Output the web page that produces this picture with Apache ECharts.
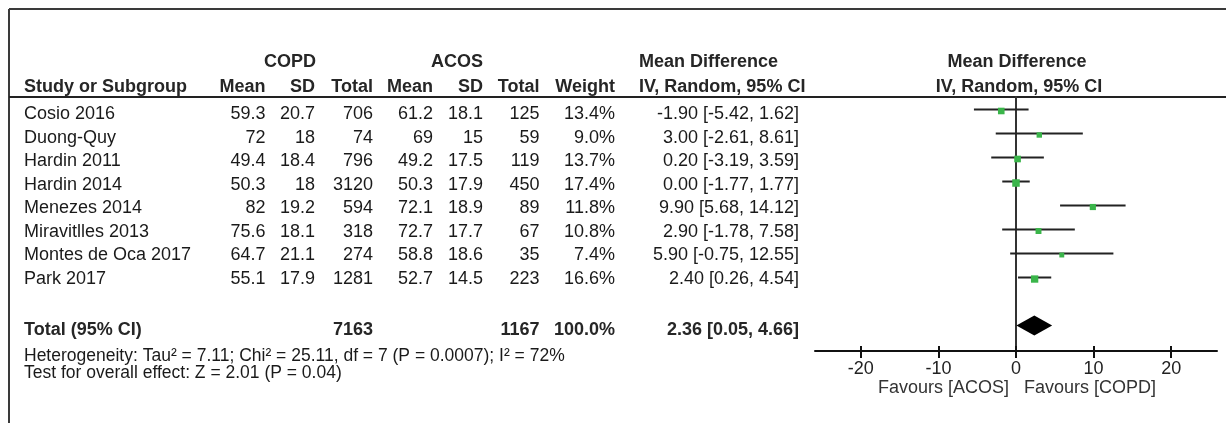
<!DOCTYPE html>
<html>
<head>
<meta charset="utf-8">
<script src="https://cdn.jsdelivr.net/npm/echarts@6/dist/echarts.min.js"></script>
<style>
  html, body { margin: 0; padding: 0; background: #fff; }
  #chart { width: 1226px; height: 423px; }
</style>
</head>
<body>
<div id="chart"></div>
<script>
// ---- Study data ----
const studies  = ['Cosio 2016', 'Duong-Quy', 'Hardin 2011', 'Hardin 2014', 'Menezes 2014', 'Miravitlles 2013', 'Montes de Oca 2017', 'Park 2017'];
const copdMean = [59.3, 72, 49.4, 50.3, 82, 75.6, 64.7, 55.1];
const copdSD   = [20.7, 18, 18.4, 18, 19.2, 18.1, 21.1, 17.9];
const copdN    = [706, 74, 796, 3120, 594, 318, 274, 1281];
const acosMean = [61.2, 69, 49.2, 50.3, 72.1, 72.7, 58.8, 52.7];
const acosSD   = [18.1, 15, 17.5, 17.9, 18.9, 17.7, 18.6, 14.5];
const acosN    = [125, 59, 119, 450, 89, 67, 35, 223];
const weights  = [13.4, 9.0, 13.7, 17.4, 11.8, 10.8, 7.4, 16.6];
const meanDiff = [-1.90, 3.00, 0.20, 0.00, 9.90, 2.90, 5.90, 2.40];
const ciLow    = [-5.42, -2.61, -3.19, -1.77, 5.68, -1.78, -0.75, 0.26];
const ciHigh   = [1.62, 8.61, 3.59, 1.77, 14.12, 7.58, 12.55, 4.54];

// ---- Pooled result ----
const totalCopdN = 7163;
const totalAcosN = 1167;
const totalWeight = 100.0;
const pooledMD = 2.36, pooledLow = 0.05, pooledHigh = 4.66;
const pooledRow = 9;

const heterogeneityText = 'Heterogeneity: Tau\u00B2 = 7.11; Chi\u00B2 = 25.11, df = 7 (P = 0.0007); I\u00B2 = 72%';
const overallText = 'Test for overall effect: Z = 2.01 (P = 0.04)';
const xTicks = [-20, -10, 0, 10, 20];

// ---- Layout ----
const FONT = '"Liberation Sans", Arial, Helvetica, sans-serif';
const TXT = '#1a1a1a';
const ROW0 = 114.5, ROWH = 23.45;
const cols = [
  { x: 24,    align: 'left'  },  // study
  { x: 265.5, align: 'right' },  // COPD mean
  { x: 315,   align: 'right' },  // COPD SD
  { x: 373,   align: 'right' },  // COPD total
  { x: 433,   align: 'right' },  // ACOS mean
  { x: 483,   align: 'right' },  // ACOS SD
  { x: 539.5, align: 'right' },  // ACOS total
  { x: 615,   align: 'right' },  // weight
  { x: 799,   align: 'right' }   // mean difference
];

function txt(text, x, y, align, size, bold, color) {
  return {
    type: 'text', silent: true,
    style: {
      text: text, x: x, y: y,
      align: align, textAlign: align,
      verticalAlign: 'middle', textVerticalAlign: 'middle',
      font: (bold ? 'bold ' : '') + size + 'px ' + FONT,
      fill: color || TXT
    }
  };
}
function hline(x1, y1, x2, y2, w, c) {
  return { type: 'line', silent: true, shape: { x1: x1, y1: y1, x2: x2, y2: y2 }, style: { stroke: c, lineWidth: w } };
}
const fmtCI = (m, l, h) => m.toFixed(2) + ' [' + l.toFixed(2) + ', ' + h.toFixed(2) + ']';

const graphics = [];
// frame and header rule
graphics.push(hline(9, 9, 1226, 9, 2, '#3a3a3a'));
graphics.push(hline(9, 9, 9, 423, 2, '#3a3a3a'));
graphics.push(hline(9, 97, 1226, 97, 2, '#222'));

// header
const H1 = 62, H2 = 87;
graphics.push(txt('COPD', 290, H1, 'center', 18, true, '#262626'));
graphics.push(txt('ACOS', 457, H1, 'center', 18, true, '#262626'));
graphics.push(txt('Mean Difference', 639, H1, 'left', 18, true, '#262626'));
graphics.push(txt('Mean Difference', 1017, H1, 'center', 18, true, '#262626'));
const headLabels = ['Study or Subgroup', 'Mean', 'SD', 'Total', 'Mean', 'SD', 'Total', 'Weight'];
headLabels.forEach((h, k) => graphics.push(txt(h, cols[k].x, H2, cols[k].align, 18, true, '#262626')));
graphics.push(txt('IV, Random, 95% CI', 639, H2, 'left', 18, true, '#262626'));
graphics.push(txt('IV, Random, 95% CI', 1019, H2, 'center', 18, true, '#262626'));

// study rows
studies.forEach((s, i) => {
  const y = ROW0 + ROWH * i;
  const cells = [s, String(copdMean[i]), String(copdSD[i]), String(copdN[i]),
    String(acosMean[i]), String(acosSD[i]), String(acosN[i]),
    weights[i].toFixed(1) + '%', fmtCI(meanDiff[i], ciLow[i], ciHigh[i])];
  cells.forEach((c, k) => graphics.push(txt(c, cols[k].x, y, cols[k].align, 18, false)));
});

// total row
const YT = 330;
graphics.push(txt('Total (95% CI)', cols[0].x, YT, 'left', 18, true, '#262626'));
graphics.push(txt(String(totalCopdN), cols[3].x, YT, 'right', 18, true, '#262626'));
graphics.push(txt(String(totalAcosN), cols[6].x, YT, 'right', 18, true, '#262626'));
graphics.push(txt(totalWeight.toFixed(1) + '%', cols[7].x, YT, 'right', 18, true, '#262626'));
graphics.push(txt(fmtCI(pooledMD, pooledLow, pooledHigh), cols[8].x, YT, 'right', 18, true, '#262626'));

// footer
graphics.push(txt(heterogeneityText, 24, 356, 'left', 17.5, false));
graphics.push(txt(overallText, 24, 373, 'left', 17.5, false));

// favours labels
graphics.push(txt('Favours [ACOS]', 1009, 388, 'right', 18, false, '#333'));
graphics.push(txt('Favours [COPD]', 1024, 388, 'left', 18, false, '#333'));

// ---- Forest plot series data ----
const studyData = studies.map((s, i) => [meanDiff[i], ciLow[i], ciHigh[i], i, weights[i]]);
const pooledData = [[pooledMD, pooledLow, pooledHigh, pooledRow]];

const X_MIN = -25.9, X_MAX = 25.9;

const chart = echarts.init(document.getElementById('chart'), null, { renderer: 'canvas' });
chart.setOption({
  animation: false,
  backgroundColor: '#fff',
  grid: { left: 815, right: 9, top: 97, bottom: 72, containLabel: false },
  xAxis: [
    {
      type: 'value', min: X_MIN, max: X_MAX, position: 'bottom',
      axisLine: { show: true, onZero: false, lineStyle: { color: '#111', width: 2 } },
      axisTick: { show: true, inside: false, length: 7, customValues: xTicks, lineStyle: { color: '#111', width: 2 } },
      axisLabel: { show: true, customValues: xTicks, margin: 9, color: '#222', fontSize: 18, fontFamily: FONT },
      splitLine: { show: false }
    },
    {
      type: 'value', min: X_MIN, max: X_MAX, position: 'bottom', offset: 0,
      axisLine: { show: false, onZero: false },
      axisTick: { show: true, inside: true, length: 5, customValues: xTicks, lineStyle: { color: '#111', width: 2 } },
      axisLabel: { show: false },
      splitLine: { show: false }
    }
  ],
  yAxis: {
    type: 'value', inverse: true, min: -0.52, max: 10.06,
    axisLine: { show: true, onZero: true, lineStyle: { color: '#333', width: 2 } },
    axisTick: { show: false }, axisLabel: { show: false }, splitLine: { show: false }
  },
  graphic: { elements: graphics },
  series: [
    {
      type: 'custom', name: 'studies', xAxisIndex: 0, yAxisIndex: 0,
      data: studyData,
      encode: { x: [0, 1, 2], y: 3 },
      renderItem: function (params, api) {
        const row = api.value(3);
        const lo = api.coord([api.value(1), row]);
        const hi = api.coord([api.value(2), row]);
        const c = api.coord([api.value(0), row]);
        const s = 1.8 * Math.sqrt(api.value(4));
        return {
          type: 'group',
          children: [
            { type: 'line', shape: { x1: lo[0], y1: lo[1], x2: hi[0], y2: hi[1] }, style: { stroke: '#222', lineWidth: 2 } },
            { type: 'rect', shape: { x: c[0] - s / 2, y: c[1] - s / 2 + 1.5, width: s, height: s }, style: { fill: '#3ab54a' } }
          ]
        };
      }
    },
    {
      type: 'custom', name: 'pooled', xAxisIndex: 0, yAxisIndex: 0,
      data: pooledData,
      encode: { x: [0, 1, 2], y: 3 },
      renderItem: function (params, api) {
        const row = api.value(3);
        const lo = api.coord([api.value(1), row]);
        const hi = api.coord([api.value(2), row]);
        const c = api.coord([api.value(0), row]);
        const h = 10;
        return {
          type: 'polygon',
          shape: { points: [[lo[0], c[1]], [c[0], c[1] - h], [hi[0], c[1]], [c[0], c[1] + h]] },
          style: { fill: '#000' }
        };
      }
    }
  ]
});
</script>
</body>
</html>
